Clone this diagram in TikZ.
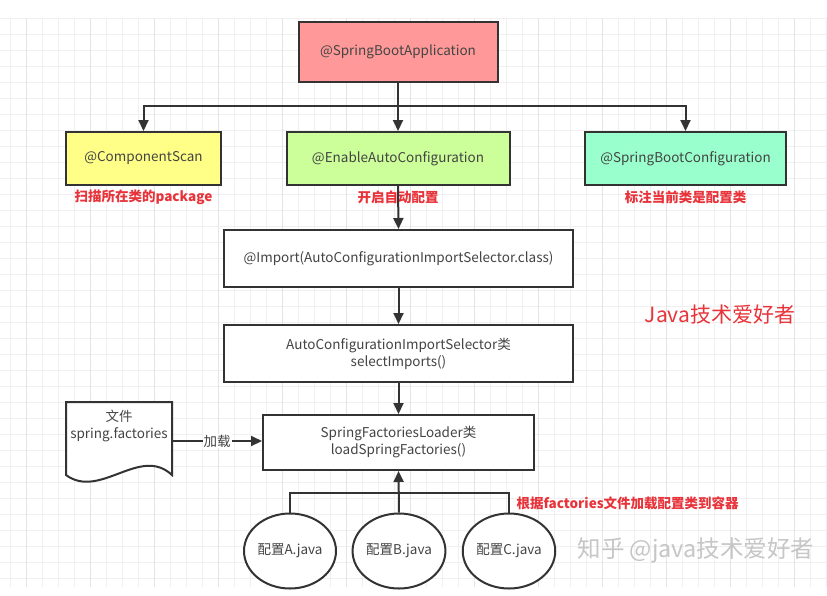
\documentclass[tikz,border=0pt]{standalone}
\usepackage{fontspec}
\setmainfont{Noto Sans CJK SC}
\usetikzlibrary{arrows.meta,shapes.geometric}
\definecolor{boxline}{HTML}{333333}
\definecolor{txtgray}{HTML}{444444}
\definecolor{notered}{HTML}{E8333A}
\definecolor{appfill}{HTML}{FF9999}
\definecolor{scanfill}{HTML}{FFFF88}
\definecolor{enablefill}{HTML}{CCFF99}
\definecolor{bootfill}{HTML}{99FFCC}
\tikzset{
  stage/.style={draw=boxline, line width=2pt, text=txtgray, align=center,
    font=\fontsize{13.5}{17}\selectfont, inner sep=0pt},
  note/.style={text=notered, font=\fontsize{13.5}{16}\selectfont\bfseries},
  flow/.style={draw=boxline, line width=2pt, -{Triangle[length=11pt,width=10pt]}},
  link/.style={draw=boxline, line width=2pt},
}
\begin{document}
\begin{tikzpicture}[x=1pt, y=-1pt]
    \useasboundingbox (0,0) rectangle (827,595);
    \fill[white] (0,0) rectangle (827,595);

    % Raster latar
    \foreach \x in {10,26,...,826} \draw[gray!12, line width=0.7pt] (\x,18) -- (\x,587);
    \foreach \y in {18,34,...,586} \draw[gray!12, line width=0.7pt] (0,\y) -- (827,\y);
    \foreach \x in {26,90,...,826} \draw[gray!20, line width=0.9pt] (\x,18) -- (\x,587);

    % Kotak utama
    \node[stage, fill=appfill, minimum width=199, minimum height=60] (app) at (398,52) {@SpringBootApplication};

    \node[stage, fill=scanfill, minimum width=155, minimum height=53] (scan) at (143.5,158.5) {@ComponentScan};
    \node[stage, fill=enablefill, minimum width=223, minimum height=53] (enable) at (398,158.5) {@EnableAutoConfiguration};
    \node[stage, fill=bootfill, minimum width=201, minimum height=53] (boot) at (685.5,158.5) {@SpringBootConfiguration};

    \node[note] (scannote) at (143.5,197) {扫描所在类的package};
    \node[note] (enablenote) at (398,197) {开启自动配置};
    \node[note] (bootnote) at (685.5,197) {标注当前类是配置类};

    \node[stage, fill=white, minimum width=349, minimum height=57] (import) at (398.5,258.5) {@Import(AutoConfigurationImportSelector.class)};
    \node[stage, fill=white, minimum width=349, minimum height=57] (selector) at (398.5,353.5) {AutoConfigurationImportSelector类\\selectImports()};
    \node[stage, fill=white, minimum width=271, minimum height=55] (loader) at (398.5,442.5) {SpringFactoriesLoader类\\loadSpringFactories()};

    % Berkas spring.factories
    \draw[boxline, line width=2pt, fill=white]
        (66,402) -- (172,402) -- (172,475) .. controls (140,445) and (100,500) .. (66,475) -- cycle;
    \node[stage, draw=none] (file) at (119,426) {文件\\spring.factories};
    \coordinate (fileout) at (172,441);

    % Kelas konfigurasi
    \node[stage, ellipse, fill=white, minimum width=92, minimum height=75] (cfga) at (290,551) {配置A.java};
    \node[stage, ellipse, fill=white, minimum width=92, minimum height=75] (cfgb) at (399,551) {配置B.java};
    \node[stage, ellipse, fill=white, minimum width=92, minimum height=75] (cfgc) at (509,551) {配置C.java};

    % Panah
    \coordinate (bus) at (398,106);
    \draw[link] (app.south) -- (bus);
    \draw[flow] (bus) -| (scan.north);
    \draw[flow] (bus) -| (boot.north);
    \draw[flow] (bus) -- (enable.north);
    \draw[flow] (enable.south) -- (import.north);
    \draw[flow] (import.south) -- (selector.north);
    \draw[flow] (selector.south) -- (loader.north);
    \draw[flow] (fileout) -- node[fill=white, inner sep=1pt, text=txtgray, font=\fontsize{13.5}{16}\selectfont] (loadlabel) {加载} (fileout -| loader.west);

    \coordinate (cfgbus) at (399,493);
    \draw[link] (cfga.north) |- (cfgbus) -| (cfgc.north);
    \draw[flow] (cfgb.north) -- (loader.south);

    \node[note, anchor=west] (cfgnote) at (513,503) {根据factories文件加载配置类到容器};

    % Tanda penulis
    \node[text=notered, font=\fontsize{21}{24}\selectfont] (brand) at (720,315) {Java技术爱好者};
    \node[text=gray!45, font=\fontsize{23.5}{27}\selectfont, anchor=west] (mark) at (574,550) {知乎 @java技术爱好者};
\end{tikzpicture}
\end{document}
